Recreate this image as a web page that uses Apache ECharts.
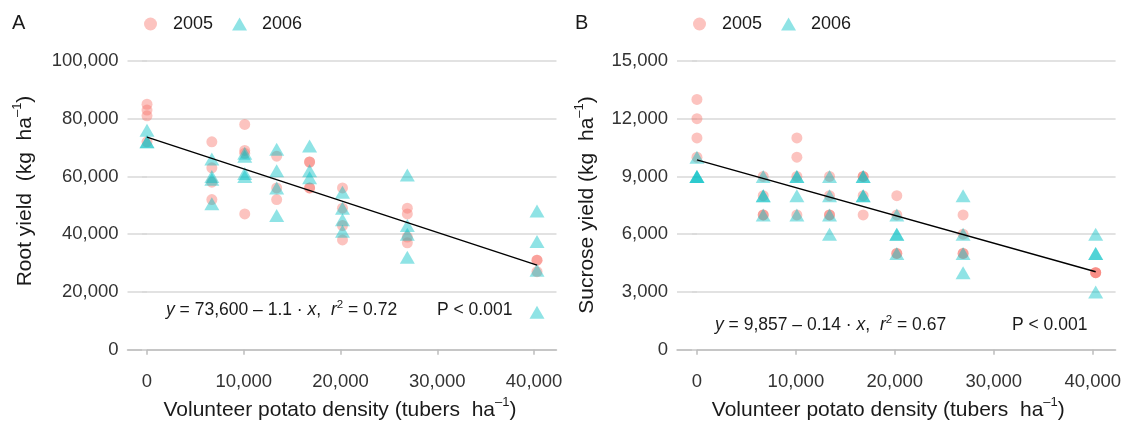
<!DOCTYPE html>
<html>
<head>
<meta charset="utf-8">
<script src="https://cdn.jsdelivr.net/npm/echarts@6/dist/echarts.min.js"></script>
<style>
html, body { margin: 0; padding: 0; background: #fff; }
#chart { width: 1124px; height: 429px; }
</style>
</head>
<body>
<div id="chart"></div>
<script>
// tuber densities (tubers ha-1) at which yields were measured
const densities = [0, 6700, 10100, 13400, 16800, 20200, 26900, 40300]

// root yield (kg ha-1), one list per density
const rootYield2005 = [
  [85000, 83000, 81000, 72000],
  [72000, 63000, 58000, 52000],
  [78000, 69000, 68000, 47000],
  [67000, 56000, 52000],
  [65000, 65000, 56000, 56000],
  [56000, 49000, 43000, 38000],
  [49000, 47000, 39000, 37000],
  [31000, 31000, 27000]
]
const rootYield2006 = [
  [76000, 72000, 72000],
  [66000, 60000, 59000, 50500],
  [68000, 67000, 61000, 60000],
  [69400, 62000, 56000, 46500],
  [70500, 62000, 59500],
  [54500, 49000, 45000, 41000],
  [60500, 43000, 40000, 32000],
  [48000, 37500, 27500, 13000]
]

// sucrose yield (kg ha-1), one list per density
const sucrose2005 = [
  [13000, 12000, 11000, 10000],
  [9000, 8000, 7000, 7000],
  [11000, 10000, 9000, 7000],
  [9000, 8000, 7000, 7000],
  [9000, 9000, 8000, 7000],
  [8000, 7000, 5000, 5000],
  [7000, 6000, 5000, 5000],
  [4000, 4000, 4000]
]
const sucrose2006 = [
  [10000, 9000, 9000, 9000],
  [9000, 8000, 8000, 7000],
  [9000, 9000, 8000, 7000],
  [9000, 8000, 7000, 6000],
  [9000, 9000, 8000, 8000],
  [7000, 6000, 6000, 5000],
  [8000, 6000, 5000, 4000],
  [6000, 5000, 5000, 3000]
]

// fitted lines, end points
const rootFit = [[0, 73600], [40300, 29300]]
const sucroseFit = [[0, 9860], [40300, 4050]]

const xTicks = [0, 10000, 20000, 30000, 40000]
const rootTicks = [0, 20000, 40000, 60000, 80000, 100000]
const sucroseTicks = [0, 3000, 6000, 9000, 12000, 15000]

const toPairs = groups => groups.flatMap((ys, i) => ys.map(y => [densities[i], y]))

const FONT = 'Liberation Sans, Arial, sans-serif'
const pink = 'rgba(248, 118, 109, 0.55)'
const teal = 'rgba(0, 191, 196, 0.55)'
const gridColor = '#d9d9d9'
const tickText = '#333'
const fmt = v => v.toLocaleString('en-US')

const supRich = {
  sup: { fontSize: 13, fontFamily: FONT, color: '#1a1a1a', verticalAlign: 'top', lineHeight: 14 }
}
const eqRich = {
  i: { fontSize: 17.5, fontFamily: FONT, fontStyle: 'italic', color: '#1a1a1a' },
  sup: { fontSize: 11.5, fontFamily: FONT, color: '#1a1a1a', verticalAlign: 'top', lineHeight: 12 }
}

const makeX = (gridIndex, shift) => ({
  type: 'value',
  gridIndex,
  min: -2015,
  max: 42315,
  splitLine: { show: false },
  axisLine: { show: true, lineStyle: { color: '#bdbdbd', width: 1.5 } },
  axisTick: { show: true, length: 5, customValues: xTicks, lineStyle: { color: '#bdbdbd', width: 1.5 } },
  axisLabel: {
    customValues: xTicks, formatter: fmt, margin: 8,
    fontSize: 18.5, fontFamily: FONT, color: tickText
  },
  name: 'Volunteer potato density (tubers  ha{sup|–1})',
  nameLocation: 'middle',
  nameGap: 28,
  nameTextStyle: {
    fontSize: 21, fontFamily: FONT, color: '#1a1a1a', lineHeight: 28, rich: supRich,
    padding: [0, shift, 0, 0]
  }
})

const makeY = (gridIndex, ticks, min, max) => ({
  type: 'value',
  gridIndex,
  min,
  max,
  axisLine: { show: false },
  axisTick: { show: true, length: 5, customValues: ticks, lineStyle: { color: gridColor, width: 1.5 } },
  axisLabel: {
    customValues: ticks, formatter: fmt, margin: 9,
    fontSize: 18.5, fontFamily: FONT, color: tickText
  },
  splitLine: { show: true, lineStyle: { color: gridColor, width: 1.5 } }
})

const scatter = (name, xi, data, isTriangle) => ({
  type: 'scatter',
  name,
  xAxisIndex: xi,
  yAxisIndex: xi,
  data,
  symbol: isTriangle ? 'triangle' : 'circle',
  symbolSize: isTriangle ? [15, 13] : 11,
  itemStyle: { color: isTriangle ? teal : pink },
  emphasis: { disabled: true }
})

const fitLine = (xi, data) => ({
  type: 'line',
  xAxisIndex: xi,
  yAxisIndex: xi,
  data,
  symbol: 'none',
  silent: true,
  lineStyle: { color: '#000', width: 1.4 },
  z: 5
})

const legendFor = left => ({
  left,
  top: 10,
  itemWidth: 15,
  itemHeight: 13,
  itemGap: 19,
  selectedMode: false,
  data: [{ name: '2005', icon: 'circle' }, { name: '2006', icon: 'triangle' }],
  textStyle: { fontSize: 18, fontFamily: FONT, color: '#1a1a1a', padding: [0, 0, 0, 10] }
})

const textEl = (x, y, text, opts) => ({
  type: 'text',
  x,
  y,
  rotation: opts.rotation || 0,
  silent: true,
  style: {
    text,
    fontSize: opts.fontSize,
    fontFamily: FONT,
    fill: '#1a1a1a',
    align: opts.align || 'left',
    verticalAlign: 'middle',
    lineHeight: opts.lineHeight,
    rich: opts.rich
  }
})

const chart = echarts.init(document.getElementById('chart'), null, { renderer: 'canvas' })

chart.setOption({
  animation: false,
  backgroundColor: '#fff',
  grid: [
    { left: 127.5, top: 46.5, width: 429, height: 320 },
    { left: 677, top: 46.5, width: 440, height: 320 }
  ],
  xAxis: [makeX(0, 4), makeX(1, 16)],
  yAxis: [makeY(0, rootTicks, -5000, 105000), makeY(1, sucroseTicks, -750, 15750)],
  legend: [legendFor(139), legendFor(688)],
  graphic: [
    textEl(12, 23, 'A', { fontSize: 20 }),
    textEl(575, 23, 'B', { fontSize: 20 }),
    textEl(25, 191, 'Root yield  (kg  ha{sup|–1})', { fontSize: 21, rotation: Math.PI / 2, align: 'center', lineHeight: 28, rich: supRich }),
    textEl(587, 205, 'Sucrose yield (kg  ha{sup|–1})', { fontSize: 21, rotation: Math.PI / 2, align: 'center', lineHeight: 28, rich: supRich }),
    textEl(166, 310, '{i|y} = 73,600 – 1.1 · {i|x},  {i|r}{sup|2} = 0.72', { fontSize: 17.5, lineHeight: 22, rich: eqRich }),
    textEl(437, 310, 'P < 0.001', { fontSize: 17.5 }),
    textEl(715, 325, '{i|y} = 9,857 – 0.14 · {i|x},  {i|r}{sup|2} = 0.67', { fontSize: 17.5, lineHeight: 22, rich: eqRich }),
    textEl(1012, 325, 'P < 0.001', { fontSize: 17.5 })
  ],
  series: [
    scatter('2005', 0, toPairs(rootYield2005), false),
    scatter('2006', 0, toPairs(rootYield2006), true),
    fitLine(0, rootFit),
    scatter('2005', 1, toPairs(sucrose2005), false),
    scatter('2006', 1, toPairs(sucrose2006), true),
    fitLine(1, sucroseFit)
  ]
})
</script>
</body>
</html>
